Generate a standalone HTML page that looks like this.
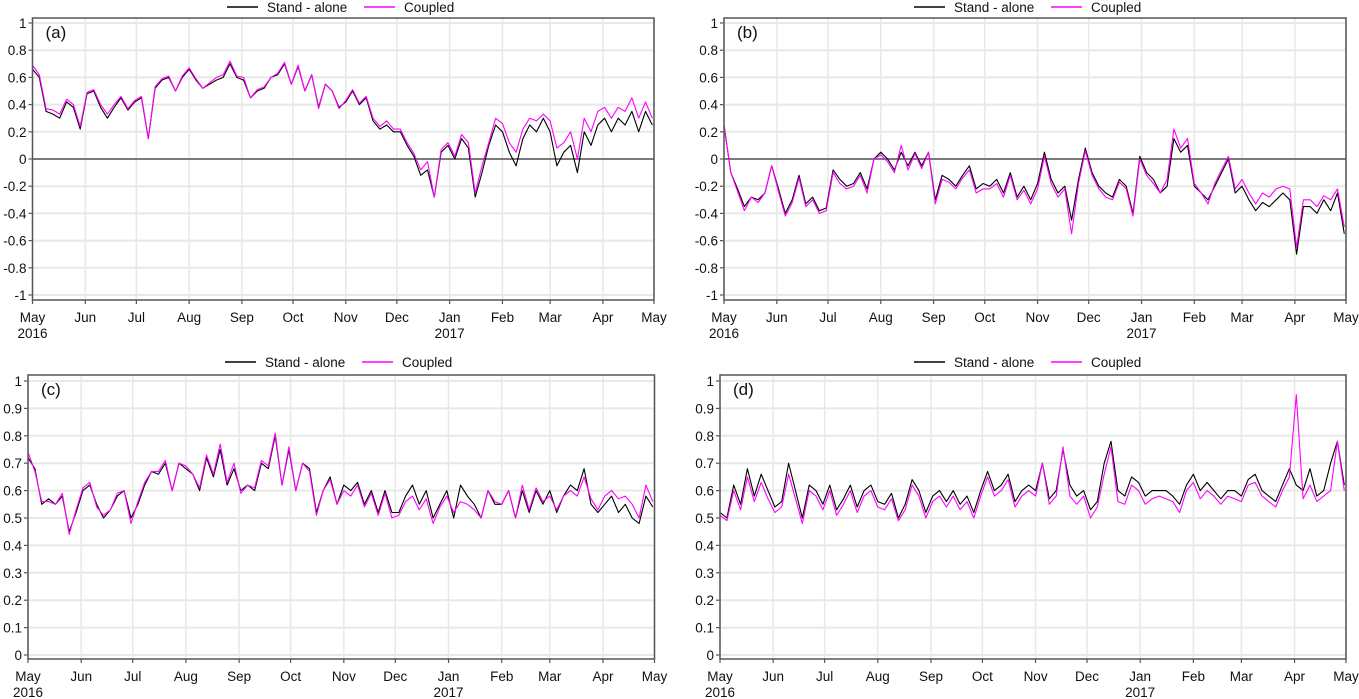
<!DOCTYPE html>
<html><head><meta charset="utf-8">
<style>
html,body{margin:0;padding:0;background:#fff;}
svg{display:block;font-family:"Liberation Sans",sans-serif;}
</style></head>
<body>
<svg id="chart" width="1359" height="699" viewBox="0 0 1359 699" xmlns="http://www.w3.org/2000/svg"></svg>
<script>
// ---- data (sampled every 4 days from 2016-05-01) ----
const monthLabels = ["May","Jun","Jul","Aug","Sep","Oct","Nov","Dec","Jan","Feb","Mar","Apr","May"];
const monthDays = [0,31,61,92,123,153,184,214,245,276,304,335,365];
const sampleStep = 4;

const aStand = [0.66,0.6,0.35,0.33,0.3,0.42,0.38,0.22,0.48,0.5,0.38,0.3,0.38,0.45,0.36,0.42,0.45,0.15,0.52,0.58,0.6,0.5,0.6,
0.66,0.58,0.52,0.55,0.58,0.6,0.7,0.6,0.58,0.45,0.5,0.52,0.6,0.62,0.7,0.55,0.68,0.5,0.62,0.38,0.55,0.5,0.38,
0.42,0.5,0.4,0.45,0.28,0.22,0.25,0.2,0.2,0.1,0.02,-0.12,-0.08,-0.28,0.05,0.1,0.0,0.15,0.08,-0.28,-0.1,0.1,0.25,
0.2,0.05,-0.05,0.15,0.25,0.2,0.3,0.2,-0.05,0.05,0.1,-0.1,0.2,0.1,0.25,0.3,0.2,0.3,0.25,0.35,0.2,0.35,0.25];
const aCoupled = [0.69,0.62,0.37,0.36,0.33,0.44,0.4,0.24,0.49,0.51,0.4,0.33,0.4,0.46,0.37,0.43,0.46,0.15,0.53,0.59,0.61,0.5,0.61,
0.67,0.59,0.52,0.56,0.6,0.62,0.72,0.61,0.6,0.45,0.51,0.53,0.6,0.63,0.71,0.55,0.69,0.5,0.62,0.37,0.55,0.5,0.37,
0.43,0.51,0.41,0.46,0.3,0.24,0.28,0.22,0.22,0.12,0.04,-0.08,-0.02,-0.28,0.07,0.12,0.02,0.18,0.12,-0.25,-0.05,0.12,0.3,
0.26,0.12,0.05,0.22,0.3,0.28,0.33,0.28,0.08,0.12,0.2,0.0,0.3,0.2,0.35,0.38,0.3,0.38,0.35,0.45,0.3,0.42,0.3];

const bStand = [0.25,-0.1,-0.22,-0.35,-0.28,-0.3,-0.25,-0.05,-0.22,
-0.4,-0.3,-0.12,-0.33,-0.28,-0.38,-0.36,
-0.08,-0.15,-0.2,-0.18,-0.1,-0.22,0.0,
0.05,0.0,-0.08,0.05,-0.05,0.05,-0.05,0.05,
-0.3,-0.12,-0.15,-0.2,-0.12,-0.05,-0.22,-0.18,
-0.2,-0.15,-0.25,-0.1,-0.28,-0.2,-0.3,
-0.18,0.05,-0.15,-0.25,-0.2,-0.45,-0.15,0.08,
-0.1,-0.2,-0.25,-0.28,-0.15,-0.2,-0.4,0.02,
-0.1,-0.15,-0.25,-0.2,0.15,0.05,0.1,
-0.2,-0.25,-0.3,-0.2,-0.1,0.0,-0.25,
-0.2,-0.3,-0.38,-0.32,-0.35,-0.3,-0.25,-0.3,
-0.7,-0.35,-0.35,-0.4,-0.3,-0.38,-0.25,-0.55];
const bCoupled = [0.25,-0.1,-0.24,-0.38,-0.28,-0.32,-0.25,-0.05,-0.24,
-0.42,-0.32,-0.14,-0.35,-0.3,-0.4,-0.38,
-0.1,-0.18,-0.22,-0.2,-0.12,-0.25,0.0,
0.03,-0.02,-0.1,0.1,-0.08,0.04,-0.07,0.05,
-0.33,-0.15,-0.17,-0.22,-0.14,-0.08,-0.25,-0.22,
-0.22,-0.18,-0.28,-0.12,-0.3,-0.23,-0.33,
-0.22,0.02,-0.18,-0.28,-0.22,-0.55,-0.18,0.06,
-0.12,-0.22,-0.28,-0.3,-0.17,-0.22,-0.42,0.0,
-0.12,-0.18,-0.25,-0.15,0.22,0.08,0.15,
-0.18,-0.25,-0.33,-0.18,-0.08,0.02,-0.22,
-0.15,-0.25,-0.33,-0.25,-0.28,-0.22,-0.2,-0.22,
-0.65,-0.3,-0.3,-0.35,-0.27,-0.3,-0.22,-0.5];

const cStand = [0.72,0.68,0.55,0.57,0.55,0.58,0.45,0.52,0.6,0.62,0.55,0.5,0.53,0.58,0.6,0.5,0.55,0.62,0.67,0.66,0.7,0.6,0.7,
0.68,0.66,0.6,0.72,0.65,0.75,0.62,0.68,0.6,0.62,0.6,0.7,0.68,0.8,0.62,0.75,0.6,0.7,0.68,0.52,0.6,0.65,0.55,
0.62,0.6,0.63,0.55,0.6,0.52,0.6,0.52,0.52,0.58,0.62,0.55,0.6,0.5,0.55,0.6,0.5,0.62,0.58,0.55,0.5,0.6,0.55,
0.55,0.6,0.5,0.6,0.52,0.6,0.55,0.6,0.52,0.58,0.62,0.6,0.68,0.55,0.52,0.55,0.58,0.52,0.55,0.5,0.48,0.58,0.54];
const cCoupled = [0.74,0.67,0.56,0.56,0.55,0.59,0.44,0.53,0.61,0.63,0.54,0.51,0.53,0.59,0.6,0.48,0.56,0.63,0.67,0.67,0.71,0.6,0.7,
0.69,0.66,0.61,0.73,0.66,0.77,0.63,0.7,0.59,0.62,0.61,0.71,0.69,0.81,0.62,0.76,0.6,0.7,0.67,0.51,0.6,0.64,0.55,
0.6,0.58,0.62,0.54,0.59,0.51,0.59,0.5,0.51,0.56,0.58,0.53,0.57,0.48,0.54,0.58,0.52,0.56,0.55,0.53,0.5,0.6,0.56,
0.55,0.6,0.5,0.62,0.53,0.61,0.56,0.58,0.53,0.58,0.6,0.58,0.65,0.57,0.53,0.58,0.6,0.57,0.58,0.55,0.5,0.62,0.56];

const dStand = [0.52,0.5,0.62,0.55,0.68,0.58,0.66,0.6,0.54,0.56,0.7,0.6,0.5,0.62,0.6,0.55,0.62,0.53,0.57,0.62,
0.54,0.6,0.62,0.56,0.55,0.59,0.5,0.55,0.64,0.6,0.52,0.58,0.6,0.56,0.6,0.55,0.58,0.52,0.6,0.67,
0.6,0.62,0.66,0.56,0.6,0.62,0.6,0.7,0.57,0.6,0.75,0.62,0.58,0.6,0.53,0.56,0.7,0.78,0.6,0.58,
0.65,0.63,0.58,0.6,0.6,0.6,0.58,0.55,0.62,0.66,0.6,0.63,0.6,0.57,0.6,0.6,0.58,0.64,0.66,0.6,
0.58,0.56,0.62,0.68,0.62,0.6,0.68,0.58,0.6,0.7,0.78,0.62];
const dCoupled = [0.51,0.49,0.6,0.53,0.65,0.56,0.63,0.57,0.52,0.54,0.66,0.57,0.48,0.6,0.58,0.53,0.6,0.51,0.55,0.6,
0.52,0.58,0.6,0.54,0.53,0.57,0.49,0.53,0.62,0.58,0.5,0.56,0.58,0.54,0.58,0.53,0.56,0.5,0.58,0.65,
0.58,0.6,0.64,0.54,0.58,0.6,0.58,0.7,0.55,0.58,0.76,0.58,0.55,0.58,0.5,0.54,0.66,0.76,0.56,0.55,
0.62,0.6,0.55,0.57,0.58,0.57,0.56,0.52,0.6,0.63,0.57,0.6,0.58,0.55,0.58,0.57,0.56,0.62,0.63,0.58,
0.56,0.54,0.6,0.65,0.95,0.57,0.62,0.56,0.58,0.6,0.78,0.6];

const aTicks = ["-1","-0.8","-0.6","-0.4","-0.2","0","0.2","0.4","0.6","0.8","1"];
const cTicks = ["0","0.1","0.2","0.3","0.4","0.5","0.6","0.7","0.8","0.9","1"];

const NS = "http://www.w3.org/2000/svg";
const svg = document.getElementById("chart");
function mk(tag, attrs, parent){
  const e = document.createElementNS(NS, tag);
  for (const k in attrs) e.setAttribute(k, attrs[k]);
  (parent||svg).appendChild(e);
  return e;
}

const panels = [
  {id:"a", x0:32.5, x1:654, top:18, bottom:300, yTop:23, yBot:295, vmin:-1, vmax:1, ticks:aTicks, zero:true, s:aStand, c:aCoupled, legY:7, legX:227},
  {id:"b", x0:724, x1:1346, top:18, bottom:300, yTop:23, yBot:295, vmin:-1, vmax:1, ticks:aTicks, zero:true, s:bStand, c:bCoupled, legY:7, legX:914},
  {id:"c", x0:28, x1:654.5, top:375, bottom:659, yTop:381, yBot:655, vmin:0, vmax:1, ticks:cTicks, zero:false, s:cStand, c:cCoupled, legY:362, legX:225},
  {id:"d", x0:720, x1:1346, top:375, bottom:659, yTop:381, yBot:655, vmin:0, vmax:1, ticks:cTicks, zero:false, s:dStand, c:dCoupled, legY:362, legX:914}
];

panels.forEach(p => {
  const g = mk("g", {});
  
  
  const xs = d => p.x0 + (p.x1 - p.x0) * d / 365;
  const ys = v => p.yBot - (v - p.vmin) / (p.vmax - p.vmin) * (p.yBot - p.yTop);

  // y gridlines + labels
  p.ticks.forEach(t => {
    const v = parseFloat(t), y = ys(v);
    const gl = mk("line", {x1:p.x0, x2:p.x1, y1:y, y2:y, stroke:"#e8e8e8", "stroke-width":2}, g);
    
    
    mk("line", {x1:p.x0-4, x2:p.x0, y1:y, y2:y, stroke:"#555", "stroke-width":1.2}, g);
    const tx = mk("text", {x:p.x0-6, y:y+5, "text-anchor":"end", "font-size":13.5, fill:"#111"}, g);
    tx.textContent = t;
    
    
  });
  // x gridlines + labels
  monthDays.forEach((d, i) => {
    const x = xs(d);
    const gl = mk("line", {x1:x, x2:x, y1:p.top, y2:p.bottom, stroke:"#e8e8e8", "stroke-width":1.5}, g);
    
    
    mk("line", {x1:x, x2:x, y1:p.bottom, y2:p.bottom+4, stroke:"#555", "stroke-width":1.2}, g);
    const tx = mk("text", {x:x, y:p.bottom+22, "text-anchor":"middle", "font-size":13.5, fill:"#111"}, g);
    tx.textContent = monthLabels[i];
    
    
  });
  [[0,"2016"],[245,"2017"]].forEach(([d, lab]) => {
    const tx = mk("text", {x:xs(d), y:p.bottom+38, "text-anchor":"middle", "font-size":13.5, fill:"#111"}, g);
    tx.textContent = lab;
    
    
  });
  if (p.zero) {
    const z = mk("line", {x1:p.x0, x2:p.x1, y1:ys(0), y2:ys(0), stroke:"#555", "stroke-width":1.5}, g);
    
    
  }
  // series
  [[p.s, "#000000", "stand-alone-line"], [p.c, "#ff00ff", "coupled-line"]].forEach(([arr, col, nm]) => {
    const pts = arr.map((v, i) => xs(Math.min(i * sampleStep, 365)).toFixed(1) + "," + ys(v).toFixed(1)).join(" ");
    const pl = mk("polyline", {points:pts, fill:"none", stroke:col, "stroke-width":1.1, "stroke-linejoin":"round"}, g);
    
    
  });
  // frame
  const fr = mk("rect", {x:p.x0, y:p.top, width:p.x1-p.x0, height:p.bottom-p.top, fill:"none", stroke:"#555", "stroke-width":1.5}, g);
  
  
  // panel label
  const pl = mk("text", {x:p.x0+13, y:p.top+20, "font-size":17, fill:"#111"}, g);
  pl.textContent = "(" + p.id + ")";
  
  
  // legend
  const lg = mk("g", {}, g);
  
  
  mk("line", {x1:p.legX, x2:p.legX+31, y1:p.legY, y2:p.legY, stroke:"#000", "stroke-width":1.5}, lg);
  const t1 = mk("text", {x:p.legX+40, y:p.legY+5, "font-size":13.5, fill:"#111"}, lg);
  t1.textContent = "Stand - alone";
  
  
  mk("line", {x1:p.legX+137, x2:p.legX+168, y1:p.legY, y2:p.legY, stroke:"#ff00ff", "stroke-width":1.5}, lg);
  const t2 = mk("text", {x:p.legX+177, y:p.legY+5, "font-size":13.5, fill:"#111"}, lg);
  t2.textContent = "Coupled";
  
  
});
</script>
</body></html>
